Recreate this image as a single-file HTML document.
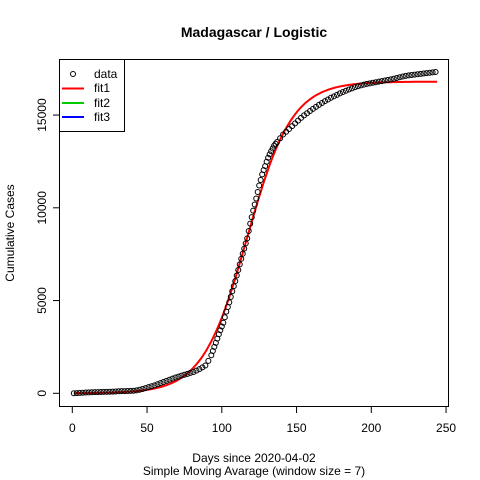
<!DOCTYPE html>
<html><head><meta charset="utf-8"><style>
html,body{margin:0;padding:0;background:#fff}
svg{display:block;font-family:"Liberation Sans",Arial,sans-serif}
</style></head><body>
<svg id="chart" width="480" height="480" viewBox="0 0 480 480">
<rect width="480" height="480" fill="#fff"/>
<text x="254" y="37" text-anchor="middle" font-size="14" font-weight="bold">Madagascar / Logistic</text>
<text transform="translate(14,233) rotate(-90)" text-anchor="middle" font-size="12">Cumulative Cases</text>
<text x="254" y="462" text-anchor="middle" font-size="12">Days since 2020-04-02</text>
<text x="254" y="475" text-anchor="middle" font-size="12">Simple Moving Avarage (window size = 7)</text>
<rect x="59.5" y="59.5" width="389" height="347" fill="none" stroke="#000"/>
<g id="axes"></g>
<g id="fits"></g>
<g id="points"></g>
<g>
<rect x="59.5" y="59.5" width="65" height="72" fill="#fff" stroke="#000"/>
<circle cx="73" cy="74" r="2.5" fill="none" stroke="#000"/>
<text x="94" y="78" font-size="12">data</text>
<line x1="62" y1="88.5" x2="84" y2="88.5" stroke="#ff0000" stroke-width="2"/>
<text x="94" y="92" font-size="12">fit1</text>
<line x1="62" y1="103" x2="84" y2="103" stroke="#00cd00" stroke-width="2"/>
<text x="94" y="107" font-size="12">fit2</text>
<line x1="62" y1="117" x2="84" y2="117" stroke="#0000ff" stroke-width="2"/>
<text x="94" y="121" font-size="12">fit3</text>
</g>
</svg>
<script>
const days = [1,3,5,7,9,11,13,15,17,19,21,23,25,27,29,31,33,35,37,39,41,43,45,47,49,51,53,55,57,59,61,63,65,67,69,71,73,75,77,79,81,83,85,87,89,91,93,94,95,96,97,98,99,100,101,102,103,104,105,106,107,108,109,110,111,112,113,114,115,116,117,118,119,120,121,122,123,124,125,126,127,128,129,130,131,132,133,134,135,136,137,139,141,143,145,147,149,151,153,155,157,159,161,163,165,167,169,171,173,175,177,179,181,183,185,187,189,191,193,195,197,199,201,203,205,207,209,211,213,215,217,219,221,223,225,227,229,231,233,235,237,239,241,243];
const cases = [0,10,20,30,40,50,55,60,65,70,75,80,85,90,100,110,115,120,125,130,140,160,190,230,280,330,380,430,490,550,610,670,730,790,850,900,950,1000,1050,1100,1150,1220,1300,1400,1500,1750,2050,2280,2500,2720,2950,3180,3400,3600,3800,4100,4400,4650,4900,5200,5500,5780,6050,6350,6650,6950,7250,7520,7800,8080,8350,8750,9150,9500,9850,10180,10500,10850,11200,11500,11800,12030,12250,12480,12700,12880,13050,13200,13350,13450,13550,13750,13950,14100,14250,14400,14550,14700,14850,14980,15100,15220,15330,15440,15550,15650,15750,15840,15930,16010,16090,16170,16240,16310,16380,16440,16500,16550,16600,16640,16680,16710,16740,16770,16800,16830,16860,16890,16920,16960,17000,17040,17080,17110,17140,17160,17180,17200,17220,17240,17260,17280,17300,17320];
const fit1Params = [16800, 0.067, 117]; // K, r, t0
const xTicks = [0,50,100,150,200,250];
const yTicks = [0,5000,10000,15000];
const fitRange = [1,244];

const NS='http://www.w3.org/2000/svg';
function X(d){return 72.3 + d*1.495;}
function Y(v){return 393.3 - v*0.01855;}
function mk(tag,attrs,parent){const e=document.createElementNS(NS,tag);for(const k in attrs)e.setAttribute(k,attrs[k]);parent.appendChild(e);return e;}
const axes=document.getElementById('axes');
mk('line',{x1:X(0),y1:406.5,x2:X(250),y2:406.5,stroke:'#000'},axes);
xTicks.forEach(t=>{
  const l=mk('line',{x1:X(t),y1:406.5,x2:X(t),y2:413,stroke:'#000'},axes);
  
  
  const tx=mk('text',{x:X(t),y:432,'text-anchor':'middle','font-size':12},axes);
  tx.textContent=t;
  
  
});
mk('line',{x1:59.5,y1:Y(0),x2:59.5,y2:Y(15000),stroke:'#000'},axes);
yTicks.forEach(t=>{
  const l=mk('line',{x1:53,y1:Y(t),x2:59.5,y2:Y(t),stroke:'#000'},axes);
  
  
  const tx=mk('text',{transform:`translate(46,${Y(t)}) rotate(-90)`,'text-anchor':'middle','font-size':12},axes);
  tx.textContent=t;
  
  
});
const fits=document.getElementById('fits');
let pts=[];
for(let d=fitRange[0];d<=fitRange[1];d++){
  const v=fit1Params[0]/(1+Math.exp(-fit1Params[1]*(d-fit1Params[2])));
  pts.push(X(d).toFixed(1)+','+Y(v).toFixed(1));
}
const fl=mk('polyline',{points:pts.join(' '),fill:'none',stroke:'#ff0000','stroke-width':2},fits);


const pg=document.getElementById('points');
days.forEach((d,i)=>{
  const c=mk('circle',{cx:X(d),cy:Y(cases[i]),r:2.5,fill:'none',stroke:'#000','stroke-width':1},pg);
  
  
});
</script>
</body></html>
